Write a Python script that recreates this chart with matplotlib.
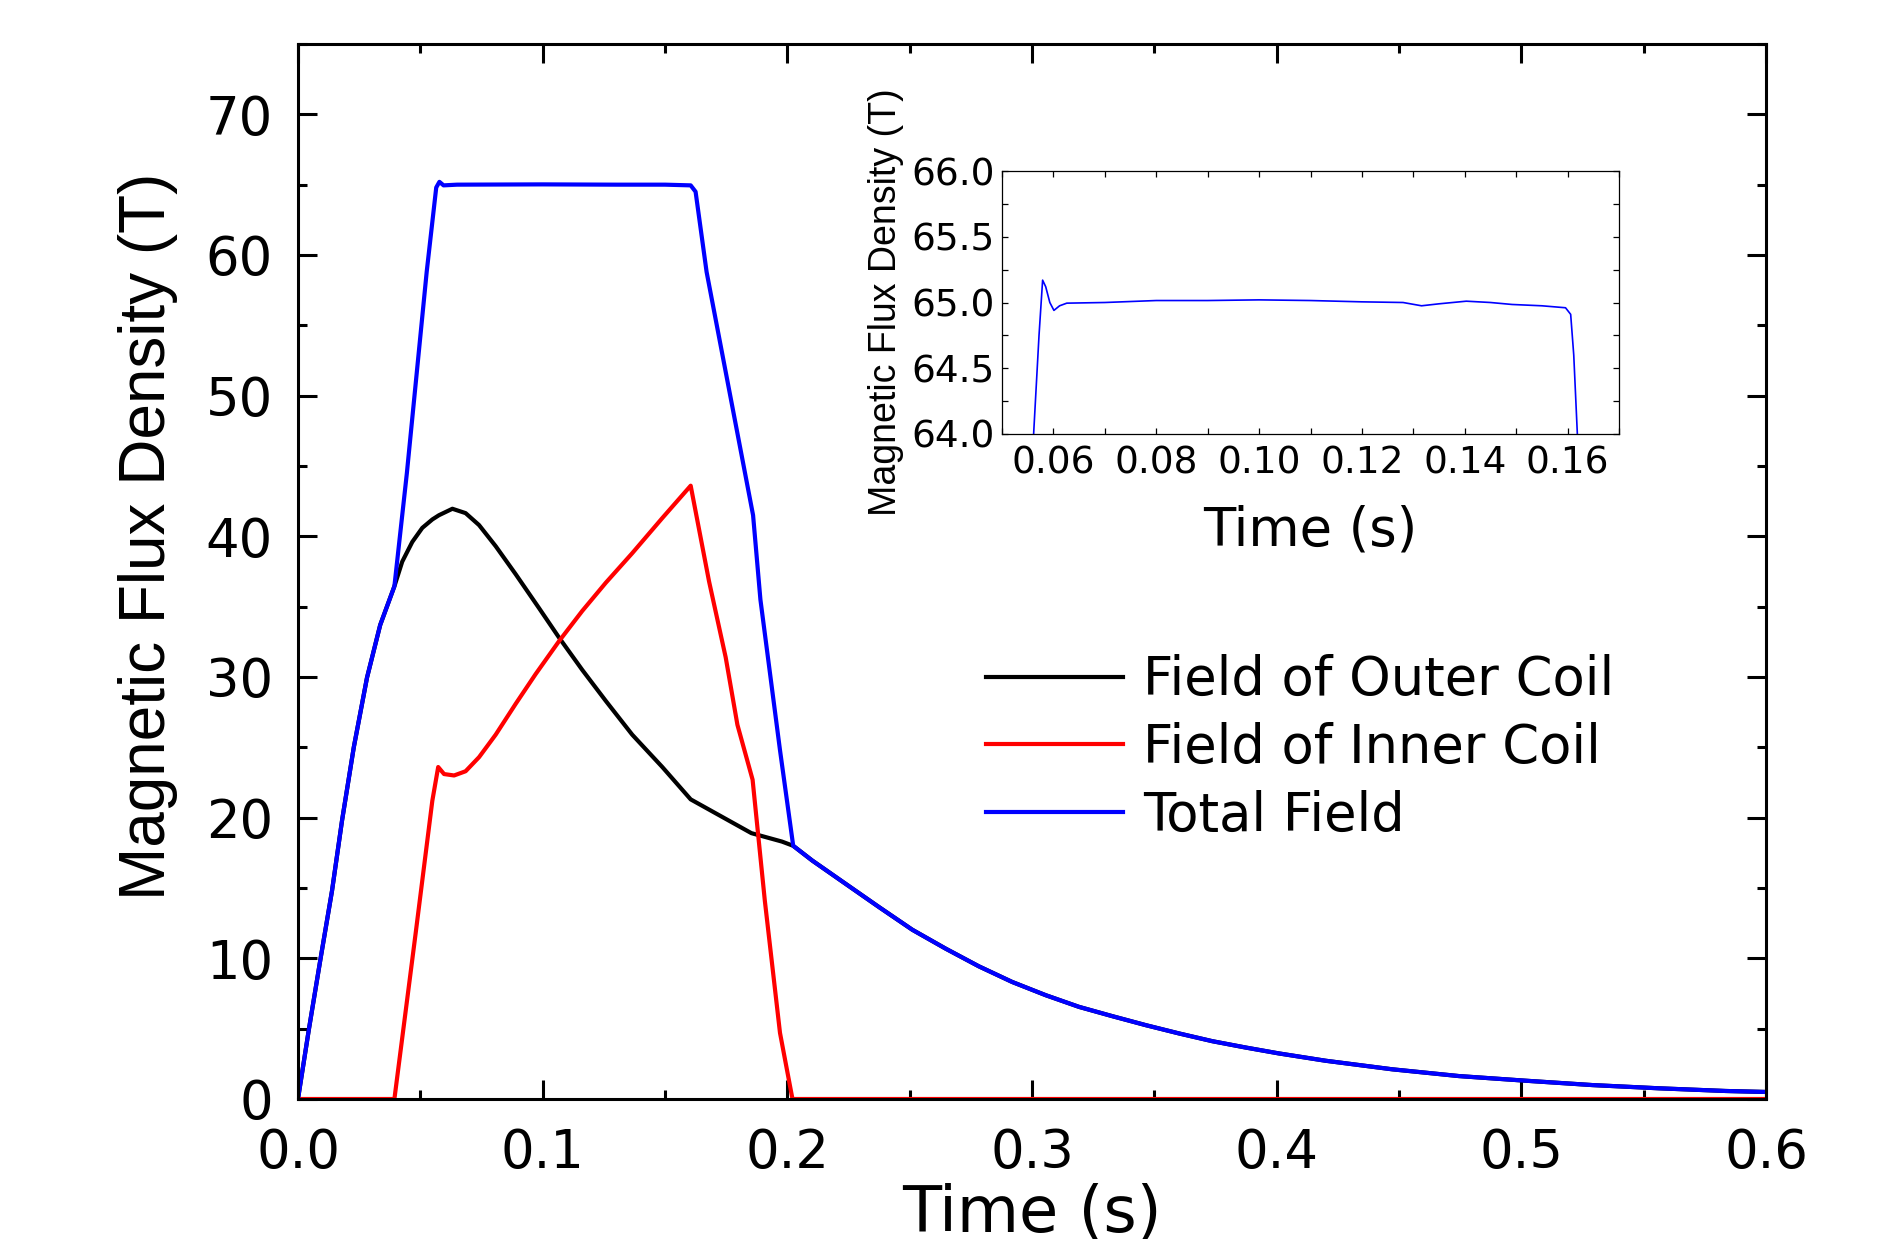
import matplotlib
matplotlib.use("Agg")
import matplotlib.pyplot as plt
from matplotlib.ticker import MultipleLocator, FormatStrFormatter
from matplotlib.lines import Line2D

# ---------------- data ----------------
# common rise (only outer coil active)
t_rise = [0.0, 0.0044, 0.0091, 0.0139, 0.018, 0.0228, 0.0282, 0.0336, 0.0394]
b_rise = [0.0, 4.9, 9.86, 14.8, 19.8, 25.0, 29.95, 33.7, 36.45]

# common decay after 0.2024 s (only outer coil active)
t_decay = [0.2024, 0.2102, 0.2238, 0.2375, 0.2511, 0.2647, 0.2783, 0.2919,
           0.3056, 0.3192, 0.3328, 0.3465, 0.3601, 0.3737, 0.3873, 0.4009,
           0.42, 0.4473, 0.4745, 0.5018, 0.529, 0.5563, 0.5835, 0.6]
b_decay = [18.0, 16.95, 15.30, 13.64, 12.03, 10.69, 9.43, 8.32,
           7.38, 6.55, 5.89, 5.25, 4.66, 4.11, 3.66, 3.24,
           2.72, 2.11, 1.63, 1.30, 0.99, 0.76, 0.57, 0.50]

# outer coil, middle part
t_outer_mid = [0.0426, 0.0467, 0.0508, 0.0549, 0.0576, 0.0631, 0.0685, 0.074,
               0.0808, 0.089, 0.0985, 0.1067, 0.1162, 0.1258, 0.1366, 0.1489,
               0.1605, 0.1853, 0.1978]
b_outer_mid = [38.2, 39.6, 40.6, 41.2, 41.5, 41.96, 41.65, 40.8,
               39.3, 37.3, 34.9, 32.8, 30.5, 28.3, 25.9, 23.6,
               21.3, 18.9, 18.3]

# inner coil
t_inner = [0.0, 0.0394, 0.0481, 0.0549, 0.0573, 0.0597, 0.0638, 0.0685, 0.074,
           0.0808, 0.089, 0.0971, 0.1067, 0.1162, 0.1258, 0.1366, 0.1489,
           0.1605, 0.168, 0.1748, 0.1796, 0.1858, 0.1908, 0.197, 0.2021, 0.6]
b_inner = [0.0, 0.0, 11.8, 21.2, 23.6, 23.1, 23.0, 23.3, 24.3,
           25.9, 28.1, 30.2, 32.55, 34.7, 36.7, 38.8, 41.3,
           43.6, 36.8, 31.4, 26.6, 22.7, 14.1, 4.7, 0.0, 0.0]

# total field, middle part
t_total_mid = [0.0445, 0.0526, 0.0565, 0.0578, 0.0595, 0.065, 0.10, 0.13,
               0.15, 0.1605, 0.1625, 0.167, 0.186, 0.189, 0.197]
b_total_mid = [44.5, 58.8, 64.8, 65.2, 64.95, 65.0, 65.02, 65.0,
               65.0, 64.95, 64.5, 58.8, 41.5, 35.5, 24.8]

# inset: total field on the plateau
t_inset = [0.0560, 0.05615, 0.0572, 0.0579, 0.0585, 0.0593, 0.0601, 0.0612,
           0.0626, 0.070, 0.080, 0.090, 0.100, 0.110, 0.120, 0.128, 0.1316,
           0.135, 0.1403, 0.1450, 0.1492, 0.155, 0.1596, 0.1606, 0.1612,
           0.1619, 0.1622]
b_inset = [63.8, 64.0, 64.75, 65.17, 65.12, 65.0, 64.94, 64.975,
           64.995, 65.0, 65.015, 65.015, 65.02, 65.015, 65.005, 65.0, 64.975,
           64.99, 65.01, 65.0, 64.985, 64.975, 64.96, 64.91, 64.6,
           64.0, 63.8]

labels = ["Field of Outer Coil", "Field of Inner Coil", "Total Field"]
colors = ["#000000", "#ff0000", "#0000ff"]

t_outer = t_rise + t_outer_mid + t_decay
b_outer = b_rise + b_outer_mid + b_decay
t_total = t_rise + t_total_mid + t_decay
b_total = b_rise + b_total_mid + b_decay

# ---------------- figure ----------------
W, H = 1884, 1239
fig = plt.figure(figsize=(W / 100, H / 100), dpi=100)
fig.patch.set_facecolor("white")

def fx(px):
    return px / W

def fy(py):
    return 1 - py / H

L, R, T, B = 298, 1766, 44, 1099
ax = fig.add_axes([fx(L), fy(B), fx(R) - fx(L), fy(T) - fy(B)])

lw = 3.0
ax.plot(t_outer, b_outer, color=colors[0], lw=lw, solid_joinstyle="round")
ax.plot(t_inner, b_inner, color=colors[1], lw=lw, solid_joinstyle="round")
ax.plot(t_total, b_total, color=colors[2], lw=lw, solid_joinstyle="round")

ax.set_xlim(0, 0.6)
ax.set_ylim(0, 75)
ax.xaxis.set_major_locator(MultipleLocator(0.1))
ax.xaxis.set_minor_locator(MultipleLocator(0.05))
ax.yaxis.set_major_locator(MultipleLocator(10))
ax.yaxis.set_minor_locator(MultipleLocator(5))
ax.xaxis.set_major_formatter(FormatStrFormatter("%.1f"))
ax.yaxis.set_major_formatter(FormatStrFormatter("%d"))

for s in ax.spines.values():
    s.set_linewidth(2.2)
ax.tick_params(which="both", direction="in", top=True, right=True, width=2.2)
ax.tick_params(which="major", length=14)
ax.tick_params(which="minor", length=6.5)
ax.tick_params(axis="x", which="major", pad=20, labelsize=38)
ax.tick_params(axis="y", which="major", pad=18, labelsize=38)
for lab in ax.get_xticklabels() + ax.get_yticklabels():
    lab.set_fontfamily("DejaVu Sans")

ax.set_xlabel("Time (s)", fontsize=46, family="DejaVu Sans")
ax.xaxis.set_label_coords(0.5, (B - 1183) / (B - T))
ax.set_ylabel("Magnetic Flux Density (T)", fontsize=46, family="Liberation Sans")
ax.yaxis.set_label_coords((178 - L) / (R - L), (B - 536) / (B - T))

handles = [Line2D([], [], color=c, lw=lw) for c in colors]
leg = ax.legend(handles, labels, loc="upper left",
                bbox_to_anchor=(fx(986), fy(654)), bbox_transform=fig.transFigure,
                frameon=False, borderpad=0, borderaxespad=0,
                handlelength=2.6, handletextpad=0.38, labelspacing=0.30,
                prop={"family": "DejaVu Sans", "size": 38})

# ---------------- inset ----------------
iL, iR, iT, iB = 1002, 1619, 171, 434
axi = fig.add_axes([fx(iL), fy(iB), fx(iR) - fx(iL), fy(iT) - fy(iB)])
axi.plot(t_inset, b_inset, color=colors[2], lw=1.2)
axi.set_xlim(0.05, 0.17)
axi.set_ylim(64.0, 66.0)
axi.xaxis.set_major_locator(MultipleLocator(0.02))
axi.xaxis.set_minor_locator(MultipleLocator(0.01))
axi.yaxis.set_major_locator(MultipleLocator(0.5))
axi.yaxis.set_minor_locator(MultipleLocator(0.25))
axi.xaxis.set_major_formatter(FormatStrFormatter("%.2f"))
axi.yaxis.set_major_formatter(FormatStrFormatter("%.1f"))
for s in axi.spines.values():
    s.set_linewidth(0.9)
axi.tick_params(which="both", direction="in", top=True, right=True,
                width=0.9, length=4.5)
axi.tick_params(axis="x", which="major", pad=8, labelsize=27)
axi.tick_params(axis="y", which="major", pad=5, labelsize=27)
for lab in axi.get_xticklabels() + axi.get_yticklabels():
    lab.set_fontfamily("DejaVu Sans")
axi.set_xlabel("Time (s)", fontsize=38, family="DejaVu Sans")
axi.xaxis.set_label_coords(0.5, (iB - 505) / (iB - iT))
axi.set_ylabel("Magnetic Flux Density (T)", fontsize=27, family="Liberation Sans")
axi.yaxis.set_label_coords((904 - iL) / (iR - iL), 0.5)

fig.savefig("out.png", dpi=100, facecolor="white")
